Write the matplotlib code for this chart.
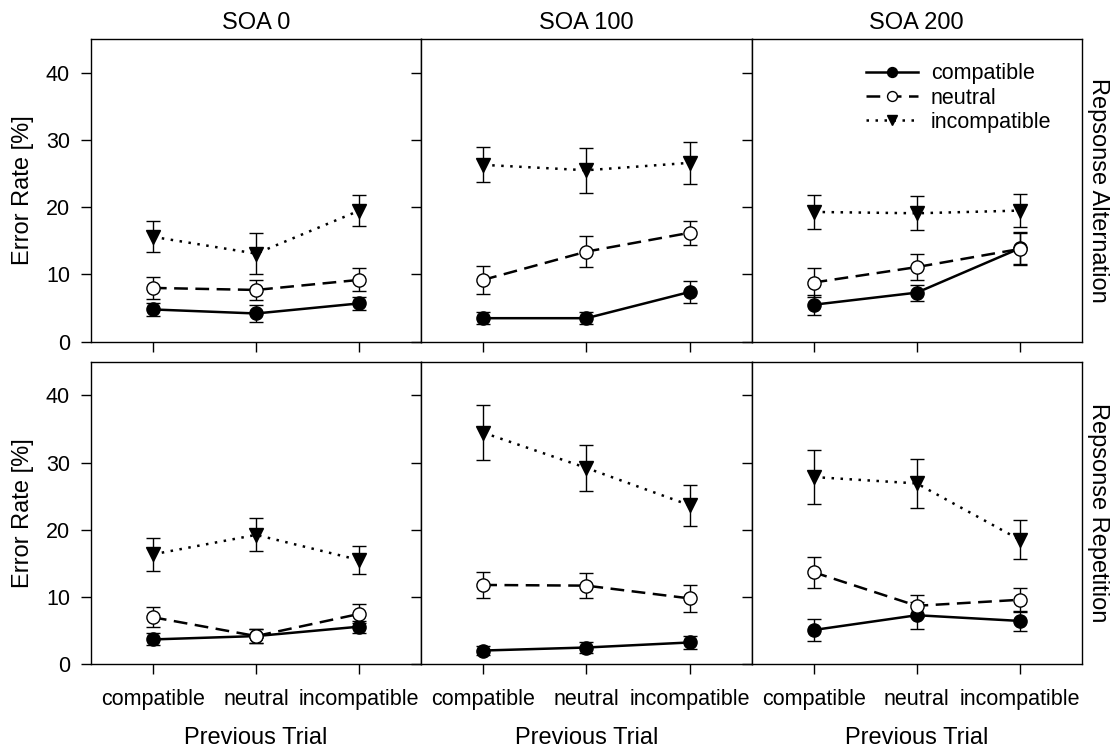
import numpy as np
import matplotlib
matplotlib.use('Agg')
import matplotlib.pyplot as plt

plt.rcParams['font.family'] = ['Liberation Sans', 'DejaVu Sans']

# Previous-trial conditions on the x axis, SOA columns, response rows
prev_trial = ['compatible', 'neutral', 'incompatible']
soa_titles = ['SOA 0', 'SOA 100', 'SOA 200']
row_titles = ['Repsonse Alternation', 'Repsonse Repetition']
series_names = ['compatible', 'neutral', 'incompatible']

# Error rates [%] for response alternation, one row per SOA
alt_compatible = [[4.8, 4.2, 5.7], [3.5, 3.5, 7.4], [5.5, 7.3, 13.9]]
alt_compatible_se = [[1.0, 1.2, 1.0], [0.9, 0.9, 1.6], [1.5, 1.2, 2.4]]
alt_neutral = [[8.0, 7.7, 9.2], [9.2, 13.4, 16.2], [8.8, 11.1, 13.8]]
alt_neutral_se = [[1.6, 1.5, 1.7], [2.1, 2.3, 1.8], [2.1, 1.9, 2.4]]
alt_incompatible = [[15.6, 13.1, 19.5], [26.3, 25.5, 26.6], [19.3, 19.1, 19.5]]
alt_incompatible_se = [[2.3, 3.0, 2.25], [2.6, 3.35, 3.15], [2.55, 2.55, 2.5]]

# Error rates [%] for response repetition, one row per SOA
rep_compatible = [[3.7, 4.2, 5.6], [2.05, 2.5, 3.25], [5.1, 7.3, 6.45]]
rep_compatible_se = [[0.9, 1.0, 0.9], [0.7, 0.75, 1.0], [1.6, 2.0, 1.5]]
rep_neutral = [[7.0, 4.2, 7.5], [11.8, 11.7, 9.8], [13.7, 8.7, 9.6]]
rep_neutral_se = [[1.5, 1.0, 1.4], [1.9, 1.9, 2.0], [2.3, 1.6, 1.8]]
rep_incompatible = [[16.35, 19.25, 15.5], [34.45, 29.2, 23.65], [27.85, 26.9, 18.5]]
rep_incompatible_se = [[2.45, 2.45, 2.1], [4.1, 3.4, 3.05], [4.05, 3.6, 2.9]]

rows = [
    [(alt_compatible, alt_compatible_se), (alt_neutral, alt_neutral_se),
     (alt_incompatible, alt_incompatible_se)],
    [(rep_compatible, rep_compatible_se), (rep_neutral, rep_neutral_se),
     (rep_incompatible, rep_incompatible_se)],
]

styles = [
    dict(linestyle='-', marker='o', markerfacecolor='black', markersize=9.5),
    dict(linestyle=(0, (5.5, 3)), marker='o', markerfacecolor='white', markersize=9.5),
    dict(linestyle=(0, (1, 2.6)), marker='v', markerfacecolor='black', markersize=10),
]

x = np.arange(1, len(prev_trial) + 1)

fig, axes = plt.subplots(2, 3, figsize=(11.16, 7.52), dpi=100, sharey=True)
fig.subplots_adjust(left=0.0815, right=0.9695, top=0.948, bottom=0.1166,
                    wspace=0, hspace=0.066)

for r, row in enumerate(rows):
    for c in range(3):
        ax = axes[r, c]
        handles = []
        for s, (vals, ses) in enumerate(row):
            eb = ax.errorbar(x, vals[c], yerr=ses[c], color='black', lw=1.8,
                             elinewidth=1.0, capsize=5, capthick=1.0,
                             markeredgecolor='black', markeredgewidth=1.0,
                             **styles[s])
            eb[0].set_zorder(3)
            handles.append(eb[0])
        ax.set_xlim(0.4, 3.6)
        ax.set_ylim(0, 45)
        ax.set_yticks([0, 10, 20, 30, 40])
        ax.set_xticks(x)
        ax.tick_params(direction='out', length=7, width=1, labelsize=15.5, pad=8)
        for sp in ax.spines.values():
            sp.set_linewidth(1.0)
        if r == 0:
            ax.set_xticklabels([])
            ax.set_title(soa_titles[c], fontsize=17, pad=7)
        else:
            ax.set_xticklabels(prev_trial)
            ax.tick_params(axis='x', pad=11)
            ax.text(0.5, -0.244, 'Previous Trial', transform=ax.transAxes,
                    ha='center', va='center', fontsize=17)
        if c == 0:
            ax.text(-0.206, 0.5, 'Error Rate [%]', transform=ax.transAxes,
                    rotation=90, ha='center', va='center', fontsize=17)
        else:
            ax.tick_params(axis='y', labelleft=False)
        if c == 2:
            ax.text(1.05, 0.5, row_titles[r], transform=ax.transAxes,
                    rotation=270, ha='center', va='center', fontsize=17)
        if r == 0 and c == 2:
            ax.legend(handles, series_names, loc='upper right',
                      bbox_to_anchor=(0.94, 0.955), frameon=False, fontsize=15.5,
                      handlelength=2.4, handletextpad=0.6, labelspacing=0.15,
                      borderpad=0, markerscale=0.75)

fig.savefig('out.png', dpi=100)
